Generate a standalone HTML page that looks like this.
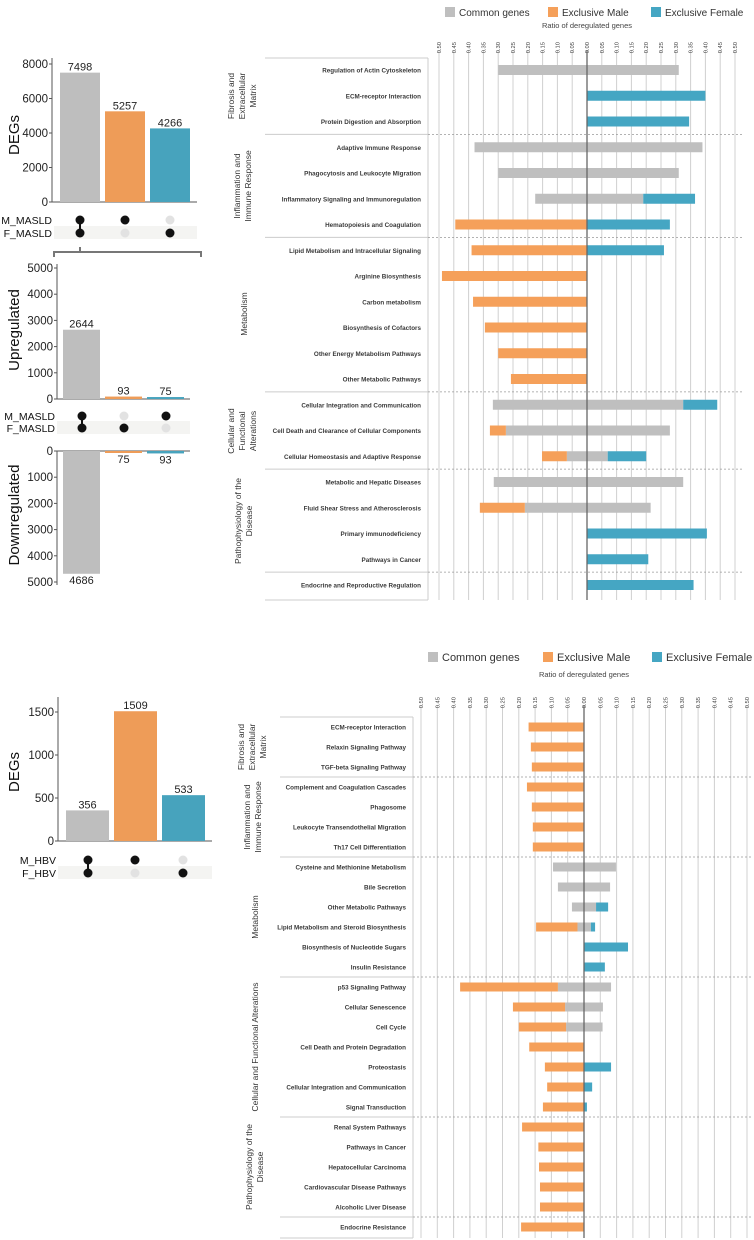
<!DOCTYPE html>
<html><head><meta charset="utf-8"><style>
body{margin:0;background:#fff;}
svg{display:block;font-family:"Liberation Sans",sans-serif;}
</style></head><body>
<svg id="fig" width="754" height="1240" viewBox="0 0 754 1240" xmlns="http://www.w3.org/2000/svg"></svg>
<script>
// ===== UpSet data =====
const upsetTopValues = [7498, 5257, 4266];
const upsetUpValues = [2644, 93, 75];
const upsetDownValues = [4686, 75, 93];
const upsetHbvValues = [356, 1509, 533];
const upsetTopTicks = [0, 2000, 4000, 6000, 8000];
const upsetUpTicks = [0, 1000, 2000, 3000, 4000, 5000];
const upsetHbvTicks = [0, 500, 1000, 1500];
// ===== MASLD ratio chart data =====
const maslRows = ["Regulation of Actin Cytoskeleton","ECM-receptor Interaction","Protein Digestion and Absorption","Adaptive Immune Response","Phagocytosis and Leukocyte Migration","Inflammatory Signaling and Immunoregulation","Hematopoiesis and Coagulation","Lipid Metabolism and Intracellular Signaling","Arginine Biosynthesis","Carbon metabolism","Biosynthesis of Cofactors","Other Energy Metabolism Pathways","Other Metabolic Pathways","Cellular Integration and Communication","Cell Death and Clearance of Cellular Components","Cellular Homeostasis and Adaptive Response","Metabolic and Hepatic Diseases","Fluid Shear Stress and Atherosclerosis","Primary immunodeficiency","Pathways in Cancer","Endocrine and Reproductive Regulation"];
const maslCommonLeft = [0.30,0,0,0.38,0.30,0.175,0,0,0,0,0,0,0,0.318,0.274,0.068,0.315,0.21,0,0,0];
const maslMaleLeft = [0,0,0,0,0,0,0.445,0.39,0.49,0.385,0.345,0.30,0.257,0,0.054,0.084,0,0.152,0,0,0];
const maslCommonRight = [0.31,0,0,0.39,0.31,0.19,0,0,0,0,0,0,0,0.325,0.28,0.07,0.325,0.215,0,0,0];
const maslFemaleRight = [0,0.40,0.345,0,0,0.175,0.28,0.26,0,0,0,0,0,0.115,0,0.13,0,0,0.405,0.207,0.36];
const maslSeparatorsAfter = [2,6,12,15,19];
// ===== HBV ratio chart data =====
const hbvRows = ["ECM-receptor Interaction","Relaxin Signaling Pathway","TGF-beta Signaling Pathway","Complement and Coagulation Cascades","Phagosome","Leukocyte Transendothelial Migration","Th17 Cell Differentiation","Cysteine and Methionine Metabolism","Bile Secretion","Other Metabolic Pathways","Lipid Metabolism and Steroid Biosynthesis","Biosynthesis of Nucleotide Sugars","Insulin Resistance","p53 Signaling Pathway","Cellular Senescence","Cell Cycle","Cell Death and Protein Degradation","Proteostasis","Cellular Integration and Communication","Signal Transduction","Renal System Pathways","Pathways in Cancer","Hepatocellular Carcinoma","Cardiovascular Disease Pathways","Alcoholic Liver Disease","Endocrine Resistance"];
const hbvCommonLeft = [0,0,0,0,0,0,0,0.095,0.08,0.037,0.02,0,0,0.08,0.058,0.055,0,0,0,0,0,0,0,0,0,0];
const hbvMaleLeft = [0.17,0.163,0.16,0.175,0.16,0.157,0.157,0,0,0,0.127,0,0,0.30,0.16,0.145,0.168,0.12,0.113,0.126,0.19,0.14,0.138,0.135,0.135,0.193];
const hbvCommonRight = [0,0,0,0,0,0,0,0.098,0.08,0.037,0.021,0,0,0.083,0.058,0.057,0,0,0,0,0,0,0,0,0,0];
const hbvFemaleRight = [0,0,0,0,0,0,0,0,0,0.037,0.013,0.135,0.064,0,0,0,0,0.083,0.025,0.009,0,0,0,0,0,0];
const hbvSeparatorsAfter = [2,6,12,19,24];
const ratioTicks = [0.50,0.45,0.40,0.35,0.30,0.25,0.20,0.15,0.10,0.05,0.00,0.05,0.10,0.15,0.20,0.25,0.30,0.35,0.40,0.45,0.50];

const C_GRAY="#bfbfbf", C_OR="#f5a05a", C_BL="#45a6c3";
const U_GRAY="#bebebe", U_OR="#ee9c58", U_BL="#47a3bd";
const NS="http://www.w3.org/2000/svg";
const svg=document.getElementById('fig');
function mk(tag,at,parent){const e=document.createElementNS(NS,tag);for(const k in at)e.setAttribute(k,at[k]);(parent||svg).appendChild(e);return e;}
function tx(x,y,s,at,parent){const e=mk('text',Object.assign({x:x,y:y},at),parent);e.textContent=s;return e;}

// ---------- UpSet panels ----------
function upsetBars(vals, colors, axisX, x0, bw, gap, yZero, scale, down, labelBelow, name){
  const g=mk('g',{});
  
  
  vals.forEach((v,i)=>{
    const x=x0+i*(bw+gap), h=v*scale;
    const r=mk('rect',{x:x,y:down?yZero:yZero-h,width:bw,height:Math.max(h,2),fill:colors[i]},g);
    
    
    const ly = down ? yZero+h+10 : yZero-h-2;
    const t=tx(x+bw/2,ly,String(v),{'font-size':11,'text-anchor':'middle',fill:'#222'},g);
    
    
  });
  return g;
}
function yAxis(x, yZero, scale, ticks, top, bottom, down, name){
  const g=mk('g',{});
  
  
  mk('line',{x1:x,x2:x,y1:top,y2:bottom,stroke:'#555','stroke-width':1},g);
  ticks.forEach(t=>{
    const y= down? yZero+t*scale : yZero-t*scale;
    mk('line',{x1:x-3,x2:x,y1:y,y2:y,stroke:'#555'},g);
    tx(x-4,y+4,String(t),{'font-size':11.5,'text-anchor':'end',fill:'#222'},g);
  });
  return g;
}
function dots(xs, yM, yF, bandX1, bandX2, patM, patF, labM, labF, name){
  const g=mk('g',{});
  
  
  mk('rect',{x:bandX1,y:yF-7,width:bandX2-bandX1,height:13,fill:'#f4f4f2'},g);
  tx(bandX1-2,yM+4,labM,{'font-size':10.5,'text-anchor':'end',fill:'#111'},g);
  tx(bandX1-2,yF+4,labF,{'font-size':10.5,'text-anchor':'end',fill:'#111'},g);
  xs.forEach((x,i)=>{
    if(patM[i]&&patF[i]) mk('line',{x1:x,x2:x,y1:yM,y2:yF,stroke:'#111','stroke-width':2},g);
    mk('circle',{cx:x,cy:yM,r:4.5,fill:patM[i]?'#111':'#e2e2e2'},g);
    mk('circle',{cx:x,cy:yF,r:4.5,fill:patF[i]?'#111':'#e2e2e2'},g);
  });
  return g;
}
// Top UpSet (MASLD total)
{
  const yZ=202, sc=138/8000;
  mk('line',{x1:52,x2:197,y1:yZ,y2:yZ,stroke:'#555'});
  yAxis(52,yZ,sc,upsetTopTicks,58,yZ,false,'masld-degs-y-axis');
  upsetBars(upsetTopValues,[U_GRAY,U_OR,U_BL],52,60,40,5,yZ,sc,false,false,'masld-degs');
  const t=tx(0,0,'DEGs',{'font-size':15,'text-anchor':'middle',fill:'#111',transform:'translate(19,135) rotate(-90)'});
   
  dots([80,125,170],220,233,54,197,[1,1,0],[1,0,1],'M_MASLD','F_MASLD','masld-matrix');
  const b=mk('path',{d:'M54,257 L54,252 L201,252 L201,257 M80,252 L80,247',fill:'none',stroke:'#777','stroke-width':2});
   
}
// Middle UpSet (up/down)
{
  const yUp=399, sc=131/5000, yDn=451;
  mk('line',{x1:57,x2:190,y1:yUp,y2:yUp,stroke:'#555'});
  yAxis(57,yUp,sc,upsetUpTicks,264,yUp,false,'upregulated-y-axis');
  upsetBars(upsetUpValues,[U_GRAY,U_OR,U_BL],57,63,37,5,yUp,sc,false,false,'upregulated');
  let t=tx(0,0,'Upregulated',{'font-size':15,'text-anchor':'middle',fill:'#111',transform:'translate(19,330) rotate(-90)'});
   
  dots([82,124,166],416,428,57,190,[1,0,1],[1,1,0],'M_MASLD','F_MASLD','direction-matrix');
  mk('line',{x1:57,x2:190,y1:yDn,y2:yDn,stroke:'#555'});
  yAxis(57,yDn,sc,[0,1000,2000,3000,4000,5000],yDn,585,true,'downregulated-y-axis');
  upsetBars(upsetDownValues,[U_GRAY,U_OR,U_BL],57,63,37,5,yDn,sc,true,true,'downregulated');
  t=tx(0,0,'Downregulated',{'font-size':15,'text-anchor':'middle',fill:'#111',transform:'translate(19,515) rotate(-90)'});
   
}
// Bottom UpSet (HBV)
{
  const yZ=841, sc=43/500;
  mk('line',{x1:58,x2:212,y1:yZ,y2:yZ,stroke:'#555'});
  yAxis(58,yZ,sc,upsetHbvTicks,697,yZ,false,'hbv-degs-y-axis');
  upsetBars(upsetHbvValues,[U_GRAY,U_OR,U_BL],58,66,43,5,yZ,sc,false,false,'hbv-degs');
  const t=tx(0,0,'DEGs',{'font-size':15,'text-anchor':'middle',fill:'#111',transform:'translate(19,772) rotate(-90)'});
   
  dots([88,135,183],860,873,58,212,[1,1,0],[1,0,1],'M_HBV','F_HBV','hbv-matrix');
}

// ---------- Ratio charts ----------
function ratioChart(o){
  const g=mk('g',{});
  
  
  const xs=v=>o.cx+v*o.unit;
  const leg=[[C_GRAY,'Common genes'],[C_OR,'Exclusive Male'],[C_BL,'Exclusive Female']];
  leg.forEach((l,i)=>{
    const lg=mk('g',{},g);
    
    
    mk('rect',{x:o.legX[i],y:o.legY-5,width:10,height:10,fill:l[0]},lg);
    tx(o.legX[i]+14,o.legY+4,l[1],{'font-size':o.legFont,fill:'#333'},lg);
  });
  const at=tx(o.cx,o.titleY,'Ratio of deregulated genes',{'font-size':7.5,'text-anchor':'middle',fill:'#444'},g);
   
  ratioTicks.forEach((t,i)=>{
    const v = i<10 ? -t : t;
    const x=xs(v);
    mk('line',{x1:x,x2:x,y1:o.gridTop,y2:o.bottom,stroke:'#d0d0d0','stroke-width':1},g);
    const lab=tx(0,0,t.toFixed(2),{'font-size':5.8,fill:'#444','text-anchor':'end',transform:`translate(${x+2},${o.tickY}) rotate(-90)`},g);
     
  });
  mk('line',{x1:o.lx1,x2:o.lx2,y1:o.top,y2:o.top,stroke:'#ccc'},g);
  mk('line',{x1:o.lx2,x2:o.lx2,y1:o.top,y2:o.bottom,stroke:'#ccc'},g);
  mk('line',{x1:o.lx1,x2:o.lx2,y1:o.bottom,y2:o.bottom,stroke:'#ccc'},g);
  const yRow=i=>o.y0+o.step*i;
  o.seps.forEach(s=>{
    const y=(yRow(s)+yRow(s+1))/2;
    mk('line',{x1:o.lx1,x2:o.lx2,y1:y,y2:y,stroke:'#ccc'},g);
    mk('line',{x1:o.lx2,x2:o.gridRight,y1:y,y2:y,stroke:'#999','stroke-dasharray':'2,2','stroke-width':0.8},g);
  });
  o.rows.forEach((r,i)=>{
    const y=yRow(i), h=o.barH;
    const lab=tx(o.lx2-7,y+2.5,r,{'font-size':o.rowFont,'text-anchor':'end',fill:'#3a3a3a','font-weight':'bold'},g);
     
    const segs=[
      [xs(-o.cl[i]),xs(0),C_GRAY,'common-left'],
      [xs(-o.cl[i]-o.ml[i]),xs(-o.cl[i]),C_OR,'male'],
      [xs(0),xs(o.cr[i]),C_GRAY,'common-right'],
      [xs(o.cr[i]),xs(o.cr[i]+o.fr[i]),C_BL,'female']
    ];
    segs.forEach(s=>{
      if(s[1]-s[0]<=0.01) return;
      const b=mk('rect',{x:s[0],y:y-h/2,width:s[1]-s[0],height:h,fill:s[2]},g);
      
      
    });
  });
  mk('line',{x1:o.cx,x2:o.cx,y1:o.gridTop,y2:o.bottom,stroke:'#666','stroke-width':1.3},g);
  o.cats.forEach(c=>{
    const t=mk('text',{'font-size':o.catFont,fill:'#333','text-anchor':'middle',transform:`translate(${c.x},${c.y}) rotate(-90)`},g);
     
    c.lines.forEach((ln,k)=>{const ts=mk('tspan',{x:0,dy:k===0?0:o.catFont*1.3},t);ts.textContent=ln;});
  });
}
ratioChart({name:'masld-ratio-chart',cx:587,unit:296,legX:[445,548,651],legY:12,legFont:10,titleY:28,tickY:42,
  gridTop:50,top:58,bottom:600,lx1:265,lx2:428,gridRight:742,y0:70,step:25.75,barH:10,rowFont:6.3,catFont:8.5,
  rows:maslRows,cl:maslCommonLeft,ml:maslMaleLeft,cr:maslCommonRight,fr:maslFemaleRight,seps:maslSeparatorsAfter,
  cats:[{x:234,y:96,lines:['Fibrosis and','Extracellular','Matrix']},
        {x:240,y:186,lines:['Inflammation and','Immune Response']},
        {x:247,y:314,lines:['Metabolism']},
        {x:234,y:431,lines:['Cellular  and','Functional','Alterations']},
        {x:241,y:521,lines:['Pathophysiology of the','Disease']}]});
ratioChart({name:'hbv-ratio-chart',cx:584,unit:326,legX:[428,543,652],legY:657,legFont:11,titleY:677,tickY:697,
  gridTop:705,top:717,bottom:1238,lx1:280,lx2:413,gridRight:752,y0:727,step:20,barH:9,rowFont:6.3,catFont:8.5,
  rows:hbvRows,cl:hbvCommonLeft,ml:hbvMaleLeft,cr:hbvCommonRight,fr:hbvFemaleRight,seps:hbvSeparatorsAfter,
  cats:[{x:244,y:747,lines:['Fibrosis and','Extracellular','Matrix']},
        {x:250,y:817,lines:['Inflammation and','Immune Response']},
        {x:258,y:917,lines:['Metabolism']},
        {x:258,y:1047,lines:['Cellular and Functional Alterations']},
        {x:252,y:1167,lines:['Pathophysiology of the','Disease']}]});
</script>
</body></html>
